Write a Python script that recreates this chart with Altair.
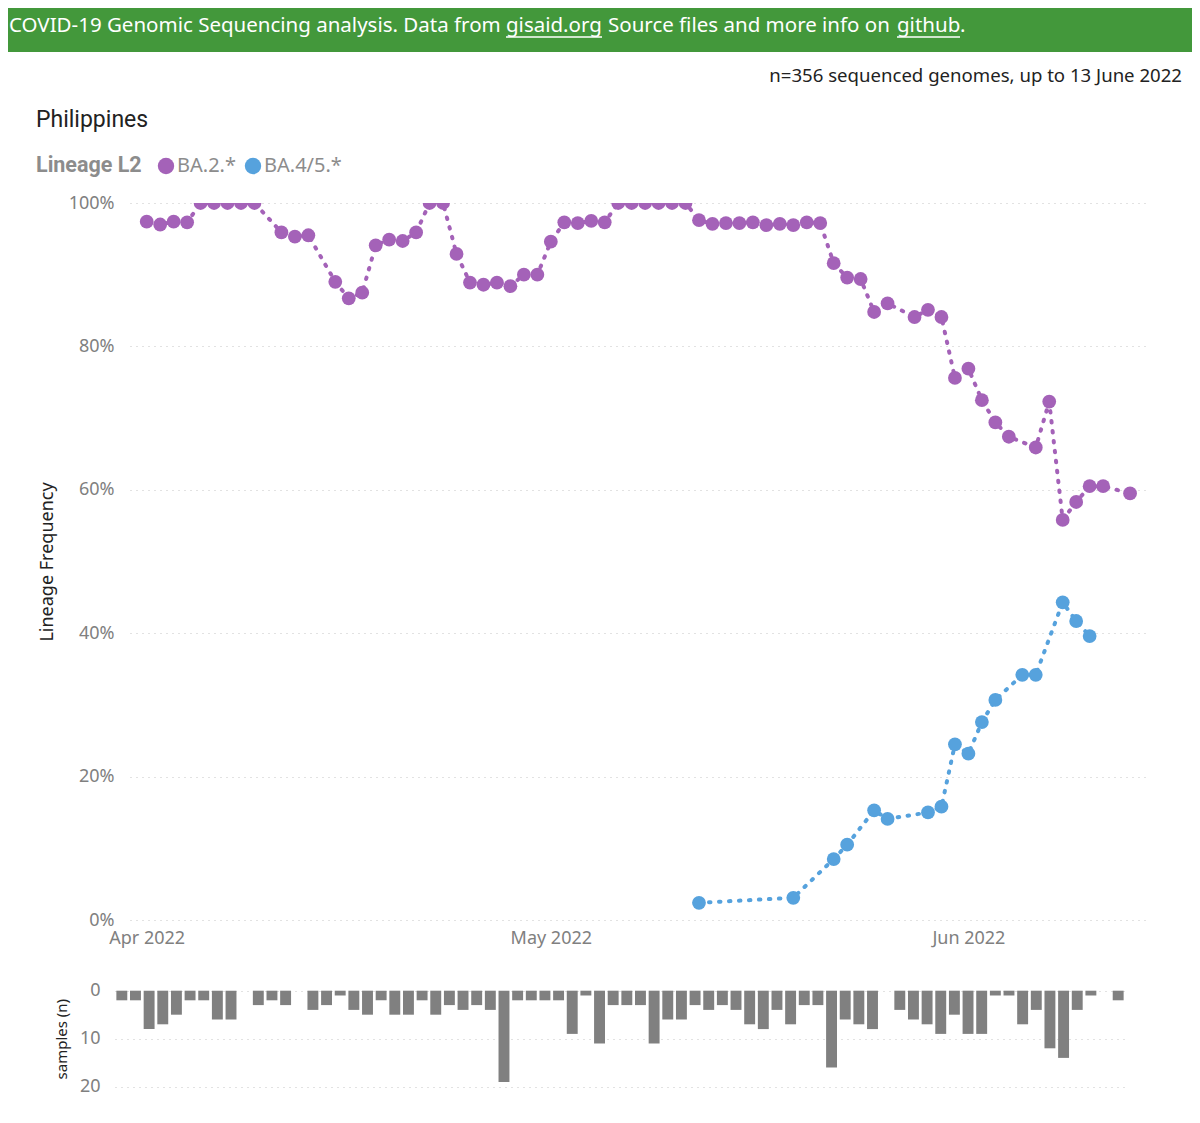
import altair as alt
import pandas as pd

# ---------------- data ----------------
ba2_dates = [
    "2022-04-01", "2022-04-02", "2022-04-03", "2022-04-04", "2022-04-05", "2022-04-06",
    "2022-04-07", "2022-04-08", "2022-04-09", "2022-04-11", "2022-04-12", "2022-04-13",
    "2022-04-15", "2022-04-16", "2022-04-17", "2022-04-18", "2022-04-19", "2022-04-20",
    "2022-04-21", "2022-04-22", "2022-04-23", "2022-04-24", "2022-04-25", "2022-04-26",
    "2022-04-27", "2022-04-28", "2022-04-29", "2022-04-30", "2022-05-01", "2022-05-02",
    "2022-05-03", "2022-05-04", "2022-05-05", "2022-05-06", "2022-05-07", "2022-05-08",
    "2022-05-09", "2022-05-10", "2022-05-11", "2022-05-12", "2022-05-13", "2022-05-14",
    "2022-05-15", "2022-05-16", "2022-05-17", "2022-05-18", "2022-05-19", "2022-05-20",
    "2022-05-21", "2022-05-22", "2022-05-23", "2022-05-24", "2022-05-25", "2022-05-26",
    "2022-05-28", "2022-05-29", "2022-05-30", "2022-05-31", "2022-06-01", "2022-06-02",
    "2022-06-03", "2022-06-04", "2022-06-06", "2022-06-07", "2022-06-08", "2022-06-09",
    "2022-06-10", "2022-06-11", "2022-06-13",
]
ba2_values = [
    97.4, 97.0, 97.4, 97.3, 100, 100,
    100, 100, 100, 95.9, 95.3, 95.5,
    89.0, 86.7, 87.5, 94.1, 94.9, 94.7,
    95.9, 100, 100, 92.9, 88.9, 88.6,
    88.9, 88.4, 90.0, 90.0, 94.6, 97.3,
    97.2, 97.5, 97.3, 100, 100, 100,
    100, 100, 100, 97.6, 97.1, 97.2,
    97.2, 97.3, 96.9, 97.1, 96.9, 97.3,
    97.2, 91.6, 89.6, 89.4, 84.8, 86.0,
    84.1, 85.1, 84.1, 75.6, 76.9, 72.5,
    69.4, 67.4, 65.9, 72.3, 55.8, 58.3,
    60.5, 60.5, 59.5,
]

ba45_dates = [
    "2022-05-12", "2022-05-19", "2022-05-22", "2022-05-23", "2022-05-25", "2022-05-26",
    "2022-05-29", "2022-05-30", "2022-05-31", "2022-06-01", "2022-06-02", "2022-06-03",
    "2022-06-05", "2022-06-06", "2022-06-08", "2022-06-09", "2022-06-10",
]
ba45_values = [
    2.4, 3.1, 8.5, 10.5, 15.3, 14.1,
    15.0, 15.8, 24.5, 23.2, 27.6, 30.7,
    34.2, 34.2, 44.3, 41.7, 39.6,
]

sample_dates = [
    "2022-04-01", "2022-04-02", "2022-04-03", "2022-04-04", "2022-04-05", "2022-04-06",
    "2022-04-07", "2022-04-08", "2022-04-09", "2022-04-11", "2022-04-12", "2022-04-13",
    "2022-04-15", "2022-04-16", "2022-04-17", "2022-04-18", "2022-04-19", "2022-04-20",
    "2022-04-21", "2022-04-22", "2022-04-23", "2022-04-24", "2022-04-25", "2022-04-26",
    "2022-04-27", "2022-04-28", "2022-04-29", "2022-04-30",
    "2022-05-01", "2022-05-02", "2022-05-03", "2022-05-04", "2022-05-05", "2022-05-06",
    "2022-05-07", "2022-05-08", "2022-05-09", "2022-05-10", "2022-05-11", "2022-05-12",
    "2022-05-13", "2022-05-14", "2022-05-15", "2022-05-16", "2022-05-17", "2022-05-18",
    "2022-05-19", "2022-05-20", "2022-05-21", "2022-05-22", "2022-05-23", "2022-05-24",
    "2022-05-25", "2022-05-26", "2022-05-28", "2022-05-29", "2022-05-30", "2022-05-31",
    "2022-06-01", "2022-06-02", "2022-06-03", "2022-06-04", "2022-06-05", "2022-06-06",
    "2022-06-07", "2022-06-08", "2022-06-09", "2022-06-10", "2022-06-11", "2022-06-13",
]
sample_counts = [
    2, 2, 8, 7, 5, 2,
    2, 6, 6, 3, 2, 3,
    4, 3, 1, 4, 5, 2,
    5, 5, 2, 5, 3, 4,
    3, 4, 19, 2,
    2, 2, 2, 9, 1, 11,
    3, 3, 3, 11, 6, 6,
    3, 4, 3, 4, 7, 8,
    4, 7, 3, 3, 16, 6,
    7, 8, 4, 6, 7, 9,
    5, 9, 9, 1, 1, 7,
    4, 12, 14, 4, 1, 2,
]

lineages = ["BA.2.*", "BA.4/5.*"]
legend_title = "Lineage L2"
month_ticks = ["2022-04-01", "2022-05-01", "2022-06-01"]
pct_ticks = [0, 20, 40, 60, 80, 100]
sample_ticks = [0, 10, 20]

header_parts = ["COVID-19 Genomic Sequencing analysis. Data from", "gisaid.org",
                "Source files and more info on", "github", "."]
subtitle = "n=356 sequenced genomes, up to 13 June 2022"
country = "Philippines"

# ---------------- tables ----------------
freq_df = pd.concat([
    pd.DataFrame({"date": ba2_dates, "freq": ba2_values, "lineage": lineages[0]}),
    pd.DataFrame({"date": ba45_dates, "freq": ba45_values, "lineage": lineages[1]}),
], ignore_index=True)
samples_df = pd.DataFrame({"day": sample_dates, "n": sample_counts})
all_days = pd.date_range("2022-04-01", "2022-06-13").strftime("%Y-%m-%d").tolist()

GREEN = "#43983b"
PURPLE = "#a462b8"
BLUE = "#56a2dd"
GRAY_TXT = "#808080"
FONT = "Noto Sans"

W, H = 1015, 884
LINE_H = 717


def dt(s, h=0, m=0):
    y, mo, d = [int(v) for v in s.split("-")]
    return alt.DateTime(year=y, month=mo, date=d, hours=h, minutes=m, utc=True)


x_time = alt.X(
    "date:T",
    title=None,
    scale=alt.Scale(type="utc", domain=[dt("2022-03-30", 18, 14), dt("2022-06-14", 2, 38)]),
    axis=alt.Axis(
        values=[dt(s) for s in month_ticks],
        labelExpr="utcFormat(datum.value, '%b %Y')",
        ticks=False, domain=False, grid=False, labelPadding=9, offset=LINE_H - H,
        labelFontSize=18, labelColor=GRAY_TXT, labelFont=FONT,
    ),
)
y_freq = alt.Y(
    "freq:Q",
    scale=alt.Scale(domain=[0, 100], range=[LINE_H, 0]),
    axis=alt.Axis(
        orient="left", values=pct_ticks, labelExpr="datum.value + '%'",
        grid=True, gridDash=[1, 5], gridColor="#c4c4c4", ticks=False, domain=False,
        labelPadding=16, labelFontSize=18, labelColor=GRAY_TXT, labelFont=FONT,
        title="Lineage Frequency", titleFontSize=18, titleFontWeight="normal",
        titleColor="#222222", titleFont=FONT, titlePadding=12,
    ),
)
color_scale = alt.Scale(domain=lineages, range=[PURPLE, BLUE])

lines = alt.Chart(freq_df).mark_line(
    strokeWidth=4, strokeDash=[1.5, 8.5], strokeCap="round", clip=True
).encode(
    x=x_time, y=y_freq,
    stroke=alt.Stroke("lineage:N", scale=color_scale, legend=None),
    detail="lineage:N",
)
points = alt.Chart(freq_df).mark_circle(size=190, opacity=1, clip=True).encode(
    x=x_time, y=y_freq,
    color=alt.Color("lineage:N", scale=color_scale, legend=None),
)
main = alt.layer(lines, points)

bars = alt.Chart(samples_df).mark_bar(color="#808080").encode(
    x=alt.X("day:O", axis=None,
            scale=alt.Scale(domain=all_days, range=[-15, 995], paddingInner=0.2, paddingOuter=0.1)),
    y=alt.Y(
        "n:Q",
        scale=alt.Scale(domain=[0, 20], range=[787.7, 883.7]),
        axis=alt.Axis(
            orient="left", values=sample_ticks, offset=14,
            grid=True, gridDash=[1, 5], gridColor="#c4c4c4", ticks=False, domain=False,
            labelPadding=16, labelFontSize=18, labelColor=GRAY_TXT, labelFont=FONT,
            title="samples (n)", titleFontSize=15, titleFontWeight="normal",
            titleColor="#222222", titleFont=FONT, titlePadding=10,
        ),
    ),
)

one = pd.DataFrame({"k": [0]})


def text_layer(s, x, y, size, color, align="left", font=FONT, weight="normal"):
    return alt.Chart(pd.DataFrame({"t": [s]})).mark_text(
        align=align, baseline="middle", fontSize=size, color=color, font=font, fontWeight=weight
    ).encode(text="t:N", x=alt.value(x), y=alt.value(y))


header_rect = alt.Chart(one).mark_rect(color=GREEN).encode(
    x=alt.value(-122), x2=alt.value(1062), y=alt.value(-195), y2=alt.value(-151)
)
HY = -177
HS = 20.5
header_txt = [
    text_layer(header_parts[0], -121, HY, HS, "white"),
    text_layer(header_parts[1], 376, HY, HS, "white"),
    text_layer(header_parts[2], 478, HY, HS, "white"),
    text_layer(header_parts[3], 767, HY, HS, "white"),
    text_layer(header_parts[4], 830, HY, HS, "white"),
]
underlines = [
    alt.Chart(one).mark_rule(color="white", strokeWidth=1.5).encode(
        x=alt.value(376), x2=alt.value(472), y=alt.value(-166)),
    alt.Chart(one).mark_rule(color="white", strokeWidth=1.5).encode(
        x=alt.value(767), x2=alt.value(830), y=alt.value(-166)),
]
sub_txt = text_layer(subtitle, 1052, -127, 18.6, "#222222", align="right")
country_txt = text_layer(country, -94, -83, 23, "#222222", font="Roboto")

# legend row drawn from the lineage list and colour scale
LY = -37
legend_layers = [
    text_layer(legend_title, -94, LY, 21.5, "#8c8c8c", font="Roboto", weight="bold"),
    alt.Chart(pd.DataFrame({"lineage": [lineages[0]]})).mark_circle(size=270, opacity=1).encode(
        color=alt.Color("lineage:N", scale=color_scale, legend=None),
        x=alt.value(36), y=alt.value(LY)),
    text_layer(lineages[0], 47, LY, 20, "#8c8c8c"),
    alt.Chart(pd.DataFrame({"lineage": [lineages[1]]})).mark_circle(size=270, opacity=1).encode(
        color=alt.Color("lineage:N", scale=color_scale, legend=None),
        x=alt.value(123), y=alt.value(LY)),
    text_layer(lineages[1], 134, LY, 20, "#8c8c8c"),
]

chart = alt.layer(
    header_rect, *header_txt, *underlines, sub_txt, country_txt, *legend_layers, bars, main
).resolve_scale(
    x="independent", y="independent"
).properties(
    width=W, height=H, padding=0, background="white"
).configure_view(stroke=None)

chart.save("out.html", embed_options={"renderer": "svg", "actions": False})
